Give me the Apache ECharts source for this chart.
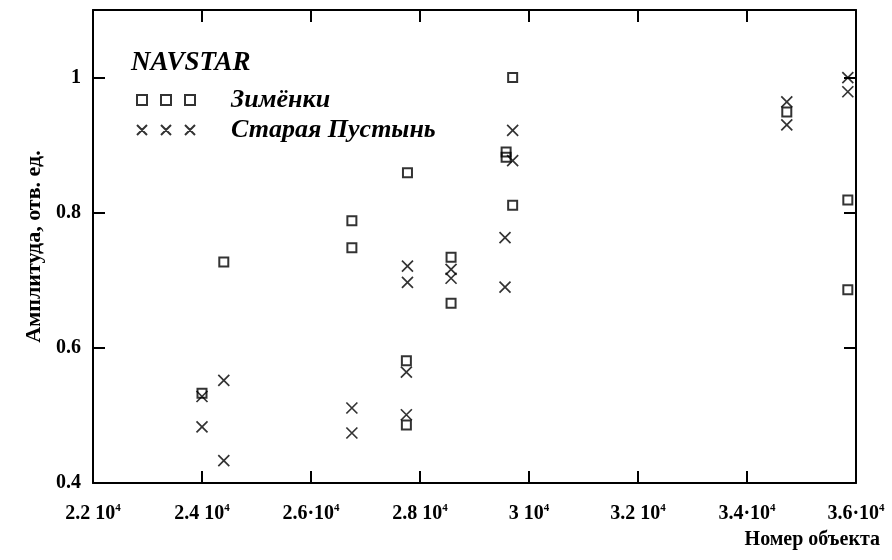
<!DOCTYPE html>
<html>
<head>
<meta charset="utf-8">
<script src="https://cdn.jsdelivr.net/npm/echarts@6/dist/echarts.min.js"></script>
<style>
  html, body { margin: 0; padding: 0; background: #fff; }
  #chart { width: 892px; height: 560px; }
</style>
</head>
<body>
<div id="chart"></div>
<script>
// Station names and measured amplitudes per object number
const seriesNames = ['Зимёнки', 'Старая Пустынь'];
const groupTitle = 'NAVSTAR';

const zimenkiX = [24000, 24400, 26750, 26750, 27770, 27750, 27750, 28570, 28570, 29580, 29580, 29700, 29700, 34730, 35850, 35850];
const zimenkiY = [0.533, 0.727, 0.788, 0.748, 0.859, 0.581, 0.486, 0.734, 0.666, 0.890, 0.882, 1.000, 0.811, 0.949, 0.819, 0.686];

const pustynX = [24000, 24000, 24400, 24400, 26750, 26750, 27770, 27770, 27750, 27750, 28570, 28570, 29560, 29560, 29700, 29700, 34730, 34730, 35850, 35850];
const pustynY = [0.528, 0.483, 0.552, 0.433, 0.511, 0.474, 0.721, 0.697, 0.564, 0.501, 0.716, 0.703, 0.763, 0.690, 0.922, 0.877, 0.964, 0.930, 1.000, 0.979];

// Axis tick labels (mantissa part; exponent drawn as superscript)
const xTickLabels = ['2.2 10', '2.4 10', '2.6·10', '2.8 10', '3 10', '3.2 10', '3.4·10', '3.6·10'];
const xTickExp = '4';
const yTickLabels = ['0.4', '0.6', '0.8', '1'];

const xName = 'Номер объекта';
const yName = 'Амплитуда, отв. ед.';

const FONT = '"Liberation Serif", "DejaVu Serif", serif';
const X_MIN = 22000, X_MAX = 36000, X_STEP = 2000;
const Y_MIN = 0.4, Y_MAX = 1.1, Y_STEP = 0.2;

const squaresIcon = 'path://M0,0h10v10h-10z M24,0h10v10h-10z M48,0h10v10h-10z';
const crossesIcon = 'path://M0,0L10,10M10,0L0,10 M24,0L34,10M34,0L24,10 M48,0L58,10M58,0L48,10';
const crossSymbol = 'path://M0,0L10,10M10,0L0,10';

const toPairs = (xs, ys) => xs.map((x, i) => [x, ys[i]]);

const axisLineStyle = { color: '#000', width: 2 };
const tickStyle = { show: true, inside: true, length: 12, lineStyle: { color: '#000', width: 2 } };

const chart = echarts.init(document.getElementById('chart'), null, { renderer: 'canvas' });

chart.setOption({
  animation: false,
  backgroundColor: '#fff',
  title: {
    text: groupTitle,
    left: 126,
    top: 45,
    textStyle: { fontFamily: FONT, fontStyle: 'italic', fontWeight: 'bold', fontSize: 27, color: '#000' }
  },
  legend: {
    orient: 'vertical',
    left: 131,
    top: 82,
    itemGap: 4,
    itemWidth: 58,
    itemHeight: 10,
    selectedMode: false,
    data: [
      { name: seriesNames[0], icon: squaresIcon },
      { name: seriesNames[1], icon: crossesIcon }
    ],
    itemStyle: { color: 'transparent', borderColor: '#000', borderWidth: 2 },
    textStyle: {
      fontFamily: FONT, fontStyle: 'italic', fontWeight: 'bold', fontSize: 26, color: '#000',
      padding: [0, 0, 0, 31]
    }
  },
  grid: { left: 93, right: 36, top: 10, bottom: 77, containLabel: false },
  xAxis: [
    {
      type: 'value', min: X_MIN, max: X_MAX, interval: X_STEP, position: 'bottom',
      axisLine: { show: true, lineStyle: axisLineStyle },
      axisTick: tickStyle,
      splitLine: { show: false },
      axisLabel: {
        margin: 20,
        formatter: (v) => {
          const i = Math.round((v - X_MIN) / X_STEP);
          return xTickLabels[i] !== undefined ? '{b|' + xTickLabels[i] + '}{s|' + xTickExp + '}' : '';
        },
        rich: {
          b: { fontFamily: FONT, fontWeight: 'bold', fontSize: 20, color: '#000', lineHeight: 22 },
          s: { fontFamily: FONT, fontWeight: 'bold', fontSize: 11, color: '#000', lineHeight: 12, verticalAlign: 'top' }
        }
      }
    },
    {
      type: 'value', min: X_MIN, max: X_MAX, interval: X_STEP, position: 'top',
      axisLine: { show: true, lineStyle: axisLineStyle },
      axisTick: tickStyle,
      axisLabel: { show: false },
      splitLine: { show: false }
    }
  ],
  yAxis: [
    {
      type: 'value', min: Y_MIN, max: Y_MAX, interval: Y_STEP, position: 'left',
      axisLine: { show: true, lineStyle: axisLineStyle },
      axisTick: tickStyle,
      splitLine: { show: false },
      axisLabel: {
        margin: 12,
        fontFamily: FONT, fontWeight: 'bold', fontSize: 20, color: '#000',
        formatter: (v) => {
          const i = Math.round((v - Y_MIN) / Y_STEP);
          return Math.abs(Y_MIN + i * Y_STEP - v) < 1e-6 && yTickLabels[i] !== undefined ? yTickLabels[i] : '';
        }
      },
      name: yName,
      nameLocation: 'middle',
      nameGap: 42,
      nameTextStyle: { fontFamily: FONT, fontWeight: 'bold', fontSize: 22, color: '#000' }
    },
    {
      type: 'value', min: Y_MIN, max: Y_MAX, interval: Y_STEP, position: 'right',
      axisLine: { show: true, lineStyle: axisLineStyle },
      axisTick: tickStyle,
      axisLabel: { show: false },
      splitLine: { show: false }
    }
  ],
  graphic: [
    {
      type: 'text',
      right: 12,
      top: 530,
      style: { text: xName, font: 'bold 20px "Liberation Serif", serif', fill: '#000' }
    }
  ],
  series: [
    {
      name: seriesNames[0],
      type: 'scatter',
      xAxisIndex: 0, yAxisIndex: 0,
      symbol: 'rect',
      symbolSize: 9,
      itemStyle: { color: 'transparent', borderColor: '#000', borderWidth: 2 },
      data: toPairs(zimenkiX, zimenkiY)
    },
    {
      name: seriesNames[1],
      type: 'scatter',
      xAxisIndex: 0, yAxisIndex: 0,
      symbol: crossSymbol,
      symbolSize: 11,
      itemStyle: { color: 'transparent', borderColor: '#000', borderWidth: 1.7 },
      data: toPairs(pustynX, pustynY)
    }
  ]
});
</script>
</body>
</html>
